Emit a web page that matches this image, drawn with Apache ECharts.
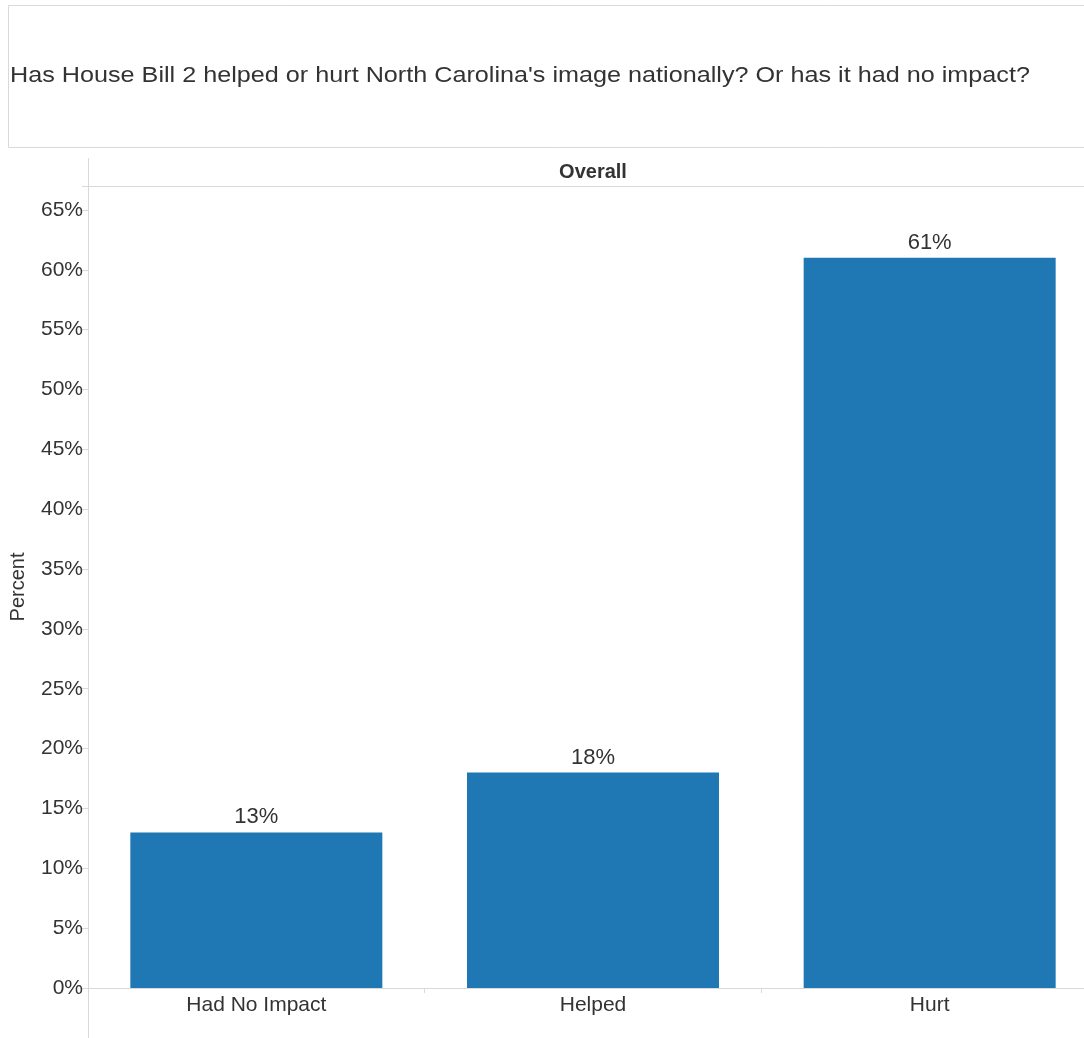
<!DOCTYPE html>
<html>
<head>
<meta charset="utf-8">
<script src="https://cdn.jsdelivr.net/npm/echarts@6/dist/echarts.min.js"></script>
<style>
  html, body { margin: 0; padding: 0; background: #fff; overflow: hidden; }
  /* the panel runs a little past the right edge of the window */
  #chart { width: 1098px; height: 1038px; }
</style>
</head>
<body>
<div id="chart"></div>
<script>
// Survey answers and their shares (percent)
const categories = ['Had No Impact', 'Helped', 'Hurt'];
const percentValues = [13, 18, 61];
const yTicks = [0, 5, 10, 15, 20, 25, 30, 35, 40, 45, 50, 55, 60, 65];

const questionText = "Has House Bill 2 helped or hurt North Carolina's image nationally? Or has it had no impact?";
const panelHeader = 'Overall';

const FONT = '"Liberation Sans", Arial, sans-serif';
const TEXT = '#333333';
const RULE = '#d9d9d9';

const chart = echarts.init(document.getElementById('chart'), null, { renderer: 'canvas' });

chart.setOption({
  backgroundColor: '#ffffff',
  animation: false,
  textStyle: { fontFamily: FONT },
  graphic: [
    // question box
    { type: 'rect', shape: { x: 8.5, y: 5.5, width: 1100, height: 142 },
      style: { fill: 'none', stroke: RULE, lineWidth: 1 } },
    { type: 'text', x: 10, y: 76, scaleX: 1.145, scaleY: 1,
      style: { text: questionText, font: '22px ' + FONT, fill: TEXT,
               verticalAlign: 'middle' } },
    // panel frame: left rule and header band
    { type: 'line', shape: { x1: 88.5, y1: 158, x2: 88.5, y2: 1038 },
      style: { stroke: RULE, lineWidth: 1 } },
    { type: 'line', shape: { x1: 88, y1: 186.5, x2: 1098, y2: 186.5 },
      style: { stroke: RULE, lineWidth: 1 } },
    { type: 'text', x: 593, y: 172,
      style: { text: panelHeader, font: 'bold 20px ' + FONT, fill: TEXT,
               align: 'center', verticalAlign: 'middle' } }
  ],
  grid: { left: 85, right: 0, top: 186, bottom: 50, containLabel: false },
  xAxis: {
    type: 'category',
    data: categories,
    axisLine: { show: true, lineStyle: { color: RULE } },
    axisTick: { show: true, alignWithLabel: false, length: 5, lineStyle: { color: RULE } },
    axisLabel: { color: TEXT, fontSize: 21, fontFamily: FONT, margin: 7 }
  },
  yAxis: {
    type: 'value',
    min: 0,
    max: 67,
    interval: 5,
    name: 'Percent',
    nameLocation: 'middle',
    nameGap: 60,
    nameTextStyle: { color: TEXT, fontSize: 20, fontFamily: FONT },
    axisLine: { show: false },
    axisTick: { show: true, length: 6, lineStyle: { color: RULE } },
    splitLine: { show: false },
    axisLabel: {
      color: TEXT, fontSize: 21, fontFamily: FONT, margin: 5,
      formatter: v => (yTicks.includes(v) ? v + '%' : '')
    }
  },
  series: [{
    type: 'bar',
    data: percentValues,
    barWidth: 252,
    itemStyle: { color: '#1f77b4' },
    label: {
      show: true, position: 'top', distance: 4,
      color: TEXT, fontSize: 22, fontFamily: FONT,
      formatter: p => p.value + '%'
    }
  }]
});
</script>
</body>
</html>
